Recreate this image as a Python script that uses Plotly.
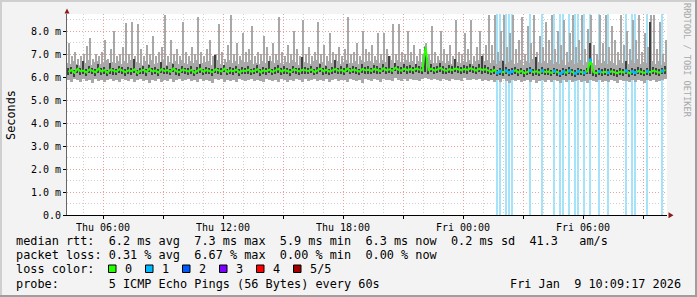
import pandas as pd
import plotly.graph_objects as go

# ---------------- data ----------------
START = "2026-01-08 04:12"
END = "2026-01-09 10:12"
BIN_MIN = 9  # minutes per bin, 200 bins

median = [
    6.22, 6.30, 6.18, 6.35, 6.25, 6.28, 6.20, 6.33, 6.27, 6.21, 6.36, 6.24, 6.30, 6.19, 6.32, 6.26, 6.23, 6.34, 6.28, 6.21,
    6.29, 6.25, 6.33, 6.18, 6.27, 6.31, 6.22, 6.36, 6.24, 6.28, 6.20, 6.34, 6.26, 6.30, 6.23, 6.37, 6.25, 6.21, 6.32, 6.27,
    6.24, 6.31, 6.19, 6.28, 6.35, 6.23, 6.30, 6.26, 6.21, 6.33, 6.27, 6.24, 6.36, 6.22, 6.29, 6.25, 6.32, 6.20, 6.28, 6.26,
    6.31, 6.23, 6.27, 6.34, 6.21, 6.29, 6.25, 6.32, 6.22, 6.28, 6.35, 6.24, 6.30, 6.26, 6.21, 6.33, 6.27, 6.24, 6.31, 6.28,
    6.26, 6.33, 6.22, 6.29, 6.36, 6.25, 6.31, 6.23, 6.28, 6.34, 6.27, 6.30, 6.24, 6.37, 6.26, 6.32, 6.28, 6.23, 6.35, 6.29,
    6.31, 6.27, 6.35, 6.30, 6.26, 6.38, 6.29, 6.33, 6.27, 6.40, 6.31, 6.28, 6.36, 6.30, 6.34, 6.29, 6.37, 6.32, 6.28, 7.30,
    6.30, 6.36, 6.28, 6.33, 6.39, 6.31, 6.27, 6.34, 6.30, 6.37, 6.32, 6.29, 6.35, 6.31, 6.38, 6.33, 6.28, 6.36, 6.31, 6.34,
    6.28, 6.22, 6.30, 6.18, 6.25, 6.21, 6.27, 6.19, 6.24, 6.29, 6.20, 6.26, 6.17, 6.23, 6.28, 6.21, 6.25, 6.19, 6.27, 6.22,
    6.24, 6.18, 6.26, 6.21, 6.15, 6.23, 6.19, 6.27, 6.20, 6.16, 6.25, 6.22, 6.18, 6.26, 6.74, 6.21, 6.17, 6.24, 6.20, 6.23,
    6.19, 6.25, 6.21, 6.17, 6.24, 6.20, 6.27, 6.16, 6.23, 6.19, 6.26, 6.22, 6.18, 6.25, 6.21, 6.28, 6.23, 6.19, 6.26, 6.30,
]

smoke_min = [
    5.88, 5.80, 5.92, 5.85, 5.78, 5.90, 5.83, 5.87, 5.76, 5.91, 5.84, 5.89, 5.79, 5.86, 5.93, 5.82, 5.88, 5.77, 5.90, 5.85,
    5.83, 5.91, 5.78, 5.87, 5.92, 5.81, 5.86, 5.75, 5.89, 5.84, 5.93, 5.80, 5.87, 5.82, 5.90, 5.78, 5.85, 5.91, 5.83, 5.88,
    5.90, 5.82, 5.87, 5.79, 5.93, 5.84, 5.88, 5.81, 5.76, 5.90, 5.85, 5.92, 5.80, 5.87, 5.83, 5.89, 5.78, 5.91, 5.86, 5.82,
    5.87, 5.93, 5.81, 5.88, 5.84, 5.79, 5.91, 5.86, 5.82, 5.89, 5.77, 5.92, 5.85, 5.80, 5.88, 5.83, 5.90, 5.86, 5.79, 5.91,
    5.84, 5.89, 5.92, 5.81, 5.87, 5.83, 5.90, 5.78, 5.86, 5.93, 5.82, 5.88, 5.85, 5.80, 5.91, 5.87, 5.83, 5.89, 5.76, 5.90,
    5.88, 5.83, 5.91, 5.86, 5.80, 5.92, 5.85, 5.89, 5.82, 5.94, 5.87, 5.84, 5.90, 5.81, 5.93, 5.86, 5.89, 5.83, 5.91, 5.95,
    5.90, 5.85, 5.93, 5.88, 5.82, 5.91, 5.87, 5.84, 5.92, 5.86, 5.89, 5.83, 5.94, 5.88, 5.85, 5.91, 5.86, 5.90, 5.84, 5.89,
    5.82, 5.88, 5.77, 5.85, 5.80, 5.90, 5.83, 5.76, 5.87, 5.81, 5.89, 5.78, 5.84, 5.86, 5.79, 5.88, 5.75, 5.83, 5.87, 5.80,
    5.85, 5.78, 5.88, 5.81, 5.74, 5.86, 5.80, 5.89, 5.77, 5.83, 5.87, 5.79, 5.84, 5.76, 5.88, 5.82, 5.78, 5.86, 5.80, 5.84,
    5.79, 5.86, 5.82, 5.75, 5.88, 5.81, 5.84, 5.77, 5.87, 5.80, 5.85, 5.83, 5.76, 5.89, 5.81, 5.86, 5.78, 5.84, 5.88, 5.90,
]

smoke_band = [
    6.62, 6.55, 6.70, 6.58, 6.50, 6.66, 6.60, 6.72, 6.53, 6.64, 6.69, 6.57, 6.61, 6.74, 6.52, 6.65, 6.59, 6.71, 6.56, 6.68,
    6.60, 6.73, 6.54, 6.66, 6.62, 6.51, 6.69, 6.58, 6.75, 6.55, 6.63, 6.67, 6.72, 6.53, 6.64, 6.59, 6.70, 6.56, 6.74, 6.61,
    6.57, 6.68, 6.62, 6.74, 6.55, 6.60, 6.66, 6.71, 6.52, 6.63, 6.73, 6.58, 6.54, 6.67, 6.75, 6.61, 6.69, 6.56, 6.72, 6.64,
    6.65, 6.72, 6.58, 6.61, 6.55, 6.70, 6.63, 6.53, 6.68, 6.59, 6.75, 6.62, 6.56, 6.67, 6.60, 6.73, 6.64, 6.54, 6.74, 6.66,
    6.63, 6.57, 6.69, 6.75, 6.60, 6.66, 6.54, 6.71, 6.62, 6.58, 6.68, 6.55, 6.64, 6.76, 6.61, 6.59, 6.70, 6.56, 6.73, 6.65,
    6.68, 6.71, 6.60, 6.74, 6.63, 6.72, 6.66, 6.59, 6.76, 6.62, 6.75, 6.65, 6.61, 6.73, 6.67, 6.70, 6.58, 6.69, 6.64, 7.35,
    6.66, 6.74, 6.62, 6.59, 6.72, 6.68, 6.61, 6.70, 6.57, 6.77, 6.64, 6.60, 6.71, 6.67, 6.76, 6.58, 6.69, 6.73, 6.63, 6.70,
    6.72, 6.60, 6.75, 6.55, 6.68, 6.74, 6.58, 6.65, 6.76, 6.57, 6.63, 6.73, 6.52, 6.69, 6.61, 6.77, 6.56, 6.66, 6.59, 6.71,
    6.62, 6.75, 6.55, 6.67, 6.58, 6.72, 6.53, 6.64, 6.76, 6.57, 6.61, 6.74, 6.54, 6.66, 6.90, 6.60, 6.52, 6.73, 6.59, 6.70,
    6.58, 6.69, 6.63, 6.54, 6.75, 6.60, 6.68, 6.56, 6.72, 6.62, 6.77, 6.55, 6.65, 6.59, 6.74, 6.71, 6.57, 6.70, 6.53, 6.64,
]

smoke_max = [
    7.50, 6.90, 7.10, 6.80, 6.90, 7.00, 7.35, 7.70, 6.80, 7.00, 6.90, 7.10, 7.60, 6.80, 7.20, 8.00, 6.90, 7.00, 7.30, 8.35,
    7.00, 8.40, 6.90, 8.30, 7.20, 6.90, 7.40, 7.00, 7.80, 6.90, 7.10, 7.30, 8.70, 6.90, 7.60, 7.00, 7.20, 6.90, 8.40, 7.10,
    6.90, 7.30, 7.00, 8.60, 7.10, 6.90, 7.20, 7.60, 6.90, 7.00, 8.30, 7.10, 6.80, 7.40, 8.70, 7.00, 7.50, 6.90, 7.90, 7.10,
    7.20, 8.20, 6.90, 7.10, 7.00, 7.80, 7.30, 6.90, 7.50, 7.00, 8.60, 7.10, 6.90, 7.40, 7.00, 8.00, 7.20, 6.90, 8.50, 7.00,
    7.30, 6.90, 7.10, 8.40, 7.00, 7.40, 6.90, 7.90, 7.10, 7.00, 7.30, 6.90, 7.20, 8.60, 7.00, 7.10, 7.50, 6.90, 8.00, 7.20,
    7.10, 7.40, 6.90, 7.90, 7.00, 7.90, 7.20, 6.90, 8.30, 7.00, 8.30, 7.10, 7.00, 8.00, 7.10, 7.40, 6.90, 7.20, 7.00, 7.50,
    7.00, 8.20, 7.10, 6.90, 8.00, 7.20, 7.00, 7.40, 6.90, 8.50, 7.10, 7.00, 7.90, 7.20, 8.50, 6.90, 7.30, 8.00, 7.00, 7.40,
    8.70, 7.40, 8.70, 7.10, 8.00, 8.70, 7.30, 7.90, 8.70, 7.20, 7.60, 8.60, 7.00, 8.20, 7.50, 8.70, 7.10, 7.80, 7.30, 8.40,
    7.60, 8.70, 7.20, 8.00, 7.40, 8.50, 7.10, 7.90, 8.70, 7.30, 7.60, 8.70, 7.20, 8.10, 8.70, 7.40, 7.00, 8.70, 7.50, 8.70,
    7.30, 8.20, 7.60, 7.10, 8.70, 7.40, 8.00, 7.20, 8.50, 7.60, 8.70, 7.10, 7.90, 7.30, 8.70, 8.70, 7.20, 8.40, 7.00, 7.60,
]

dark_lo = [
    6.08, 6.14, 6.02, 6.18, 6.10, 6.12, 6.05, 6.16, 6.11, 6.04, 6.19, 6.09, 6.13, 6.03, 6.15, 6.10, 6.07, 6.17, 6.12, 6.06,
    6.14, 6.10, 6.17, 6.03, 6.12, 6.15, 6.06, 6.20, 6.09, 6.13, 6.05, 6.18, 6.11, 6.14, 6.08, 6.21, 6.10, 6.05, 6.16, 6.12,
    6.09, 6.15, 6.04, 6.13, 6.19, 6.08, 6.14, 6.11, 6.06, 6.17, 6.12, 6.09, 6.20, 6.07, 6.13, 6.10, 6.16, 6.05, 6.12, 6.11,
    6.15, 6.08, 6.12, 6.18, 6.06, 6.13, 6.10, 6.16, 6.07, 6.12, 6.19, 6.09, 6.14, 6.11, 6.05, 6.17, 6.12, 6.08, 6.15, 6.13,
    6.11, 6.17, 6.07, 6.13, 6.20, 6.10, 6.15, 6.08, 6.12, 6.18, 6.12, 6.14, 6.09, 6.21, 6.11, 6.16, 6.13, 6.07, 6.19, 6.14,
    6.15, 6.12, 6.19, 6.14, 6.11, 6.22, 6.13, 6.17, 6.12, 6.24, 6.15, 6.13, 6.20, 6.14, 6.18, 6.13, 6.21, 6.16, 6.12, 6.20,
    6.14, 6.20, 6.13, 6.17, 6.23, 6.15, 6.11, 6.18, 6.14, 6.21, 6.16, 6.13, 6.19, 6.15, 6.22, 6.17, 6.12, 6.20, 6.15, 6.18,
    6.12, 6.07, 6.14, 6.03, 6.10, 6.05, 6.12, 6.04, 6.09, 6.13, 6.05, 6.11, 6.02, 6.08, 6.13, 6.06, 6.10, 6.04, 6.12, 6.07,
    6.09, 6.03, 6.11, 6.06, 6.00, 6.08, 6.04, 6.12, 6.05, 6.01, 6.10, 6.07, 6.03, 6.11, 6.12, 6.06, 6.02, 6.09, 6.05, 6.08,
    6.04, 6.10, 6.06, 6.02, 6.09, 6.05, 6.12, 6.01, 6.08, 6.04, 6.11, 6.07, 6.03, 6.10, 6.06, 6.13, 6.08, 6.04, 6.11, 6.15,
]

dark_hi = [
    6.40, 6.45, 6.32, 6.52, 6.38, 6.70, 6.33, 6.48, 6.41, 6.35, 6.55, 6.37, 6.44, 6.31, 6.62, 6.40, 6.36, 6.50, 6.43, 6.34,
    6.44, 6.38, 6.80, 6.31, 6.41, 6.47, 6.35, 6.53, 6.38, 6.43, 6.33, 6.66, 6.40, 6.46, 6.36, 6.55, 6.39, 6.34, 6.49, 6.41,
    6.38, 6.47, 6.32, 6.43, 6.58, 6.36, 6.45, 6.40, 6.34, 6.95, 6.41, 6.38, 6.54, 6.35, 6.44, 6.39, 6.48, 6.33, 6.43, 6.40,
    6.47, 6.36, 6.41, 6.52, 6.34, 6.44, 6.39, 6.70, 6.35, 6.43, 6.54, 6.37, 6.46, 6.40, 6.34, 6.50, 6.41, 6.37, 6.85, 6.43,
    6.40, 6.50, 6.35, 6.44, 6.56, 6.38, 6.47, 6.36, 6.43, 6.75, 6.41, 6.46, 6.37, 6.58, 6.40, 6.49, 6.43, 6.36, 6.55, 6.44,
    6.47, 6.41, 6.53, 6.46, 6.40, 6.58, 6.44, 6.90, 6.41, 6.62, 6.47, 6.42, 6.55, 6.46, 6.51, 6.44, 6.57, 6.48, 6.42, 7.32,
    6.46, 6.55, 6.42, 6.50, 6.60, 6.47, 6.41, 6.52, 6.46, 6.80, 6.49, 6.43, 6.54, 6.47, 6.58, 6.50, 6.42, 6.56, 6.90, 6.52,
    6.43, 6.36, 6.46, 6.31, 6.40, 6.70, 6.42, 6.33, 6.38, 6.45, 6.34, 6.41, 6.30, 6.37, 6.44, 6.35, 6.85, 6.33, 6.42, 6.36,
    6.39, 6.32, 6.41, 6.35, 6.29, 6.38, 6.33, 6.43, 6.34, 6.30, 6.40, 6.36, 6.32, 6.41, 7.50, 6.35, 6.31, 6.39, 6.34, 6.37,
    6.33, 6.41, 6.36, 6.31, 6.39, 6.34, 6.70, 6.30, 6.38, 6.33, 6.42, 6.37, 6.32, 6.40, 8.40, 6.44, 6.38, 6.33, 6.41, 6.46,
]

loss = [
    0, 0, 0, 0, 0, 0, 0, 0, 0, 0, 0, 0, 0, 0, 0, 0, 0, 0, 0, 0,
    0, 0, 0, 0, 0, 0, 0, 0, 0, 0, 0, 0, 0, 0, 0, 0, 0, 0, 0, 0,
    0, 0, 0, 0, 0, 0, 0, 0, 0, 0, 0, 0, 0, 0, 0, 0, 0, 0, 0, 0,
    0, 0, 0, 0, 0, 0, 0, 0, 0, 0, 0, 0, 0, 0, 0, 0, 0, 0, 0, 0,
    0, 0, 0, 0, 0, 0, 0, 0, 0, 0, 0, 0, 0, 0, 0, 0, 0, 0, 0, 0,
    0, 0, 0, 0, 0, 0, 0, 0, 0, 0, 0, 0, 0, 0, 0, 0, 0, 0, 0, 0,
    0, 0, 0, 0, 0, 0, 0, 0, 0, 0, 0, 0, 0, 0, 0, 0, 0, 0, 0, 0,
    0, 0, 0, 1, 1, 0, 1, 1, 1, 0, 0, 0, 0, 0, 1, 0, 0, 0, 1, 0,
    0, 0, 1, 0, 1, 1, 0, 1, 0, 1, 1, 0, 1, 0, 1, 0, 0, 1, 0, 0,
    1, 0, 0, 0, 0, 0, 1, 0, 1, 1, 0, 0, 0, 1, 0, 0, 0, 0, 1, 0,
]

x_tick_times = ["2026-01-08 06:00", "2026-01-08 09:00", "2026-01-08 12:00", "2026-01-08 15:00",
                "2026-01-08 18:00", "2026-01-08 21:00", "2026-01-09 00:00", "2026-01-09 03:00",
                "2026-01-09 06:00", "2026-01-09 09:00"]
x_tick_text = ["Thu 06:00", "", "Thu 12:00", "", "Thu 18:00", "", "Fri 00:00", "", "Fri 06:00", ""]
y_tick_vals = [0, 1, 2, 3, 4, 5, 6, 7, 8]
y_tick_text = ["0.0", "1.0 m", "2.0 m", "3.0 m", "4.0 m", "5.0 m", "6.0 m", "7.0 m", "8.0 m"]

stat_line1 = "median rtt:  6.2 ms avg  7.3 ms max  5.9 ms min  6.3 ms now  0.2 ms sd  41.3   am/s"
stat_line2 = "packet loss: 0.31 % avg  6.67 % max  0.00 % min  0.00 % now"
stat_line3 = "loss color:"
stat_line4 = "probe:       5 ICMP Echo Pings (56 Bytes) every 60s"
stamp = "Fri Jan  9 10:09:17 2026"
loss_labels = ["0", "1", "2", "3", "4", "5/5"]
loss_colors = ["#26ff00", "#00b8ff", "#0059ff", "#7e00ff", "#ff0000", "#a10000"]

# ---------------- figure ----------------
W, H = 697, 297
L, R, T, B = 67, 30, 14, 82
PW, PH = W - L - R, H - T - B
YMAX = PH / 23.0

def px(x):
    return (x - L) / PW

def py(y):
    return (T + PH - y) / PH

t0 = pd.Timestamp(START) + pd.Timedelta(minutes=BIN_MIN / 2)
times = pd.date_range(t0, periods=len(median), freq=f"{BIN_MIN}min")
MIN_MS = 60000

fig = go.Figure()

loss_t = [t for t, l in zip(times, loss) if l > 0]
fig.add_trace(go.Bar(x=loss_t, y=[YMAX] * len(loss_t), base=0, width=4.5 * MIN_MS,
                     marker=dict(color="#a6e2f8", line=dict(width=0)), hoverinfo="skip"))
fig.add_trace(go.Bar(x=times, y=[b - l for b, l in zip(smoke_band, smoke_min)], base=smoke_min,
                     width=BIN_MIN * MIN_MS, marker=dict(color="#a8a8a8", line=dict(width=0))))
fig.add_trace(go.Bar(x=times, y=[h - l for h, l in zip(smoke_max, smoke_min)], base=smoke_min,
                     width=6 * MIN_MS, marker=dict(color="#a8a8a8", line=dict(width=0))))
fig.add_trace(go.Bar(x=times, y=[h - l for h, l in zip(dark_hi, dark_lo)], base=dark_lo,
                     width=4 * MIN_MS, marker=dict(color="#404040", line=dict(width=0))))
fig.add_trace(go.Scatter(x=times, y=median, mode="lines", line=dict(color="#26ff00", width=2, shape="linear")))
loss_m = [m for m, l in zip(median, loss) if l > 0]
fig.add_trace(go.Scatter(x=loss_t, y=loss_m, mode="markers",
                         marker=dict(symbol="square", size=3, color="#00b8ff", line=dict(width=0))))

hourly = pd.date_range("2026-01-08 05:00", "2026-01-09 10:00", freq="1h")
half = [i * 0.5 for i in range(0, 18)]

mono = "DejaVu Sans Mono"
fig.update_layout(
    width=W, height=H, autosize=False,
    margin=dict(l=L, r=R, t=T, b=B, pad=0),
    paper_bgcolor="#f3f3f3", plot_bgcolor="#ffffff",
    barmode="overlay", showlegend=False, bargap=0,
    font=dict(family=mono, size=10, color="#000"),
    xaxis=dict(type="date", range=[START, END], tickmode="array",
               tickvals=x_tick_times, ticktext=x_tick_text,
               showgrid=True, gridcolor="#eaa0a0", griddash="1px,2px", gridwidth=1,
               ticks="outside", ticklen=3, tickcolor="#000",
               showline=True, linecolor="#000", linewidth=1,
               tickfont=dict(family=mono, size=10, color="#000"),
               minor=dict(tickmode="array", tickvals=list(hourly), showgrid=True,
                          gridcolor="#cfcfcf", griddash="1px,2px", gridwidth=1, ticks=""),
               fixedrange=True),
    yaxis=dict(range=[0, YMAX], tickmode="array", tickvals=y_tick_vals, ticktext=y_tick_text,
               showgrid=True, gridcolor="#eaa0a0", griddash="1px,2px", gridwidth=1,
               ticks="outside", ticklen=3, tickcolor="#000", zeroline=False,
               showline=True, linecolor="#666", linewidth=1,
               tickfont=dict(family=mono, size=10, color="#000"),
               minor=dict(tickmode="array", tickvals=half, showgrid=True,
                          gridcolor="#cfcfcf", griddash="1px,2px", gridwidth=1, ticks=""),
               fixedrange=True),
)

shapes = []
# borders
shapes.append(dict(type="rect", xref="paper", yref="paper", x0=px(0), x1=px(2), y0=py(H), y1=py(0),
                   fillcolor="#cfcfcf", line=dict(width=0), layer="above"))
shapes.append(dict(type="rect", xref="paper", yref="paper", x0=px(0), x1=px(W), y0=py(2), y1=py(0),
                   fillcolor="#cfcfcf", line=dict(width=0), layer="above"))
shapes.append(dict(type="rect", xref="paper", yref="paper", x0=px(W - 2), x1=px(W), y0=py(H), y1=py(0),
                   fillcolor="#9e9e9e", line=dict(width=0), layer="above"))
shapes.append(dict(type="rect", xref="paper", yref="paper", x0=px(0), x1=px(W), y0=py(H), y1=py(H - 2),
                   fillcolor="#9e9e9e", line=dict(width=0), layer="above"))
# axis arrows
shapes.append(dict(type="path", xref="paper", yref="paper",
                   path=f"M {px(64.5)} {py(13.5)} L {px(69.5)} {py(13.5)} L {px(67)} {py(8.5)} Z",
                   fillcolor="#8b1a1a", line=dict(width=0), layer="above"))
shapes.append(dict(type="path", xref="paper", yref="paper",
                   path=f"M {px(668.5)} {py(212.3)} L {px(668.5)} {py(218.3)} L {px(673.5)} {py(215.3)} Z",
                   fillcolor="#8b1a1a", line=dict(width=0), layer="above"))
# loss color boxes
for i, c in enumerate(loss_colors):
    bx = 108.5 + 37 * i
    shapes.append(dict(type="rect", xref="paper", yref="paper", x0=px(bx), x1=px(bx + 7.5),
                       y0=py(272.5), y1=py(265), fillcolor=c, line=dict(color="#000", width=1), layer="above"))
fig.update_layout(shapes=shapes)

def nb(s):
    return s.replace(" ", "\u00a0")

LEG = 11.85
ann = []
def text(x, y, s, size=LEG, color="#000", xanchor="left", angle=0):
    ann.append(dict(xref="paper", yref="paper", x=px(x), y=py(y), text=nb(s), showarrow=False,
                    xanchor=xanchor, yanchor="middle", textangle=angle,
                    font=dict(family=mono, size=size, color=color), borderpad=0))

text(15, 241, stat_line1)
text(15, 255.3, stat_line2)
text(15, 269.3, stat_line3)
text(15, 283.5, stat_line4)
text(682, 283.5, stamp, xanchor="right")
for i, lab in enumerate(loss_labels):
    text(108.5 + 37 * i + 15, 269.3, lab)
ann.append(dict(xref="paper", yref="paper", x=px(11), y=py(115), text="Seconds", showarrow=False,
                xanchor="center", yanchor="middle", textangle=-90,
                font=dict(family=mono, size=LEG, color="#000")))
ann.append(dict(xref="paper", yref="paper", x=px(687), y=py(60), text=nb("RRDTOOL / TOBI OETIKER"),
                showarrow=False, xanchor="center", yanchor="middle", textangle=90,
                font=dict(family=mono, size=8.6, color="#a8a8a8")))
fig.update_layout(annotations=ann)

fig.write_html("out.html")
